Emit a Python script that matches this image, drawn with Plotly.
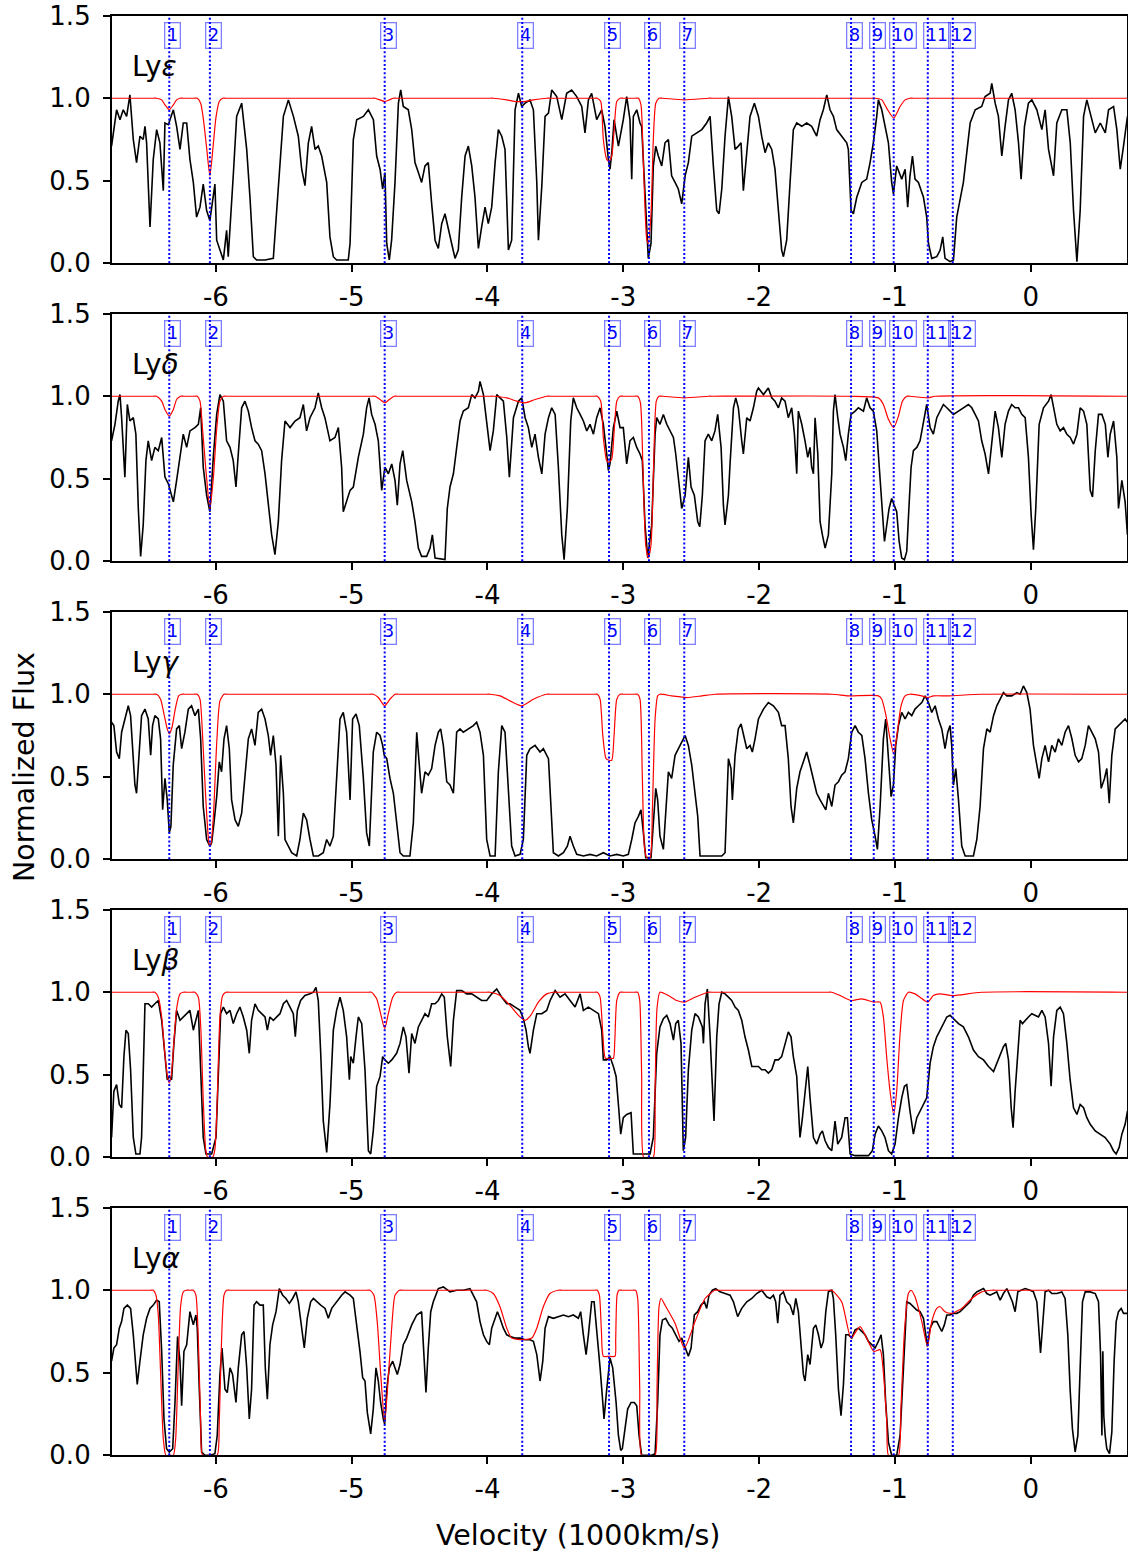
import plotly.graph_objects as go

# ---------------------------------------------------------------------------
# Axes (velocity in units of 1000 km/s, continuum-normalised flux)
# ---------------------------------------------------------------------------
V_RANGE = [-6.767, 0.711]
FLUX_RANGE = [0.0, 1.5]
VEL_TICKS = [-6, -5, -4, -3, -2, -1, 0]
VEL_TICK_TEXT = ["-6", "-5", "-4", "-3", "-2", "-1", "0"]
FLUX_TICKS = [0.0, 0.5, 1.0, 1.5]

# Absorption components marked in every panel
COMPONENT_IDS = ["1", "2", "3", "4", "5", "6", "7", "8", "9", "10", "11", "12"]
COMPONENT_VEL = [-6.343, -6.044, -4.757, -3.744, -3.105, -2.811, -2.551,
                 -1.323, -1.156, -1.009, -0.758, -0.574]

LINE_LABELS = ["Ly<i>ε</i>", "Ly<i>δ</i>", "Ly<i>γ</i>", "Ly<i>β</i>", "Ly<i>α</i>"]

# ---------------------------------------------------------------------------
# Observed spectra: (velocity, normalised flux)
# ---------------------------------------------------------------------------
LYE_SPEC = [
    (-6.768, 0.71), (-6.731, 0.93), (-6.706, 0.87), (-6.682, 0.93), (-6.657, 0.89), (-6.633, 1.02),
    (-6.608, 0.75), (-6.584, 0.61), (-6.559, 0.77), (-6.535, 0.75), (-6.522, 0.83), (-6.510, 0.73),
    (-6.485, 0.22), (-6.461, 0.63), (-6.436, 0.81), (-6.412, 0.73), (-6.387, 0.44), (-6.375, 0.85),
    (-6.350, 0.84), (-6.313, 0.93), (-6.289, 0.83), (-6.264, 0.69), (-6.240, 0.85), (-6.215, 0.85),
    (-6.191, 0.63), (-6.166, 0.49), (-6.142, 0.28), (-6.117, 0.34), (-6.093, 0.48), (-6.068, 0.32),
    (-6.044, 0.26), (-6.019, 0.40), (-6.007, 0.48), (-5.994, 0.14), (-5.970, 0.08), (-5.945, 0.02),
    (-5.921, 0.20), (-5.909, 0.04), (-5.872, 0.53), (-5.847, 0.89), (-5.810, 0.97), (-5.773, 0.69),
    (-5.749, 0.40), (-5.724, 0.04), (-5.700, 0.02), (-5.638, 0.02), (-5.577, 0.03), (-5.553, 0.32),
    (-5.528, 0.59), (-5.503, 0.89), (-5.466, 0.99), (-5.429, 0.89), (-5.393, 0.77), (-5.368, 0.57),
    (-5.344, 0.47), (-5.319, 0.73), (-5.295, 0.83), (-5.270, 0.69), (-5.246, 0.71), (-5.221, 0.65),
    (-5.184, 0.49), (-5.160, 0.16), (-5.135, 0.04), (-5.111, 0.02), (-5.062, 0.02), (-5.025, 0.02),
    (-5.012, 0.12), (-4.988, 0.75), (-4.963, 0.87), (-4.914, 0.89), (-4.877, 0.93), (-4.840, 0.87),
    (-4.816, 0.65), (-4.791, 0.57), (-4.772, 0.45), (-4.755, 0.55), (-4.742, 0.12), (-4.723, 0.02),
    (-4.706, 0.14), (-4.681, 0.49), (-4.656, 0.97), (-4.639, 1.05), (-4.620, 0.95), (-4.583, 0.93),
    (-4.558, 0.81), (-4.534, 0.61), (-4.509, 0.55), (-4.485, 0.49), (-4.460, 0.59), (-4.436, 0.61),
    (-4.411, 0.36), (-4.386, 0.14), (-4.362, 0.09), (-4.337, 0.24), (-4.313, 0.30), (-4.288, 0.20),
    (-4.264, 0.12), (-4.239, 0.03), (-4.215, 0.08), (-4.190, 0.40), (-4.165, 0.65), (-4.141, 0.71),
    (-4.116, 0.59), (-4.092, 0.40), (-4.067, 0.09), (-4.043, 0.22), (-4.018, 0.34), (-3.994, 0.24),
    (-3.969, 0.34), (-3.944, 0.61), (-3.920, 0.81), (-3.895, 0.77), (-3.871, 0.69), (-3.846, 0.08),
    (-3.822, 0.14), (-3.797, 0.93), (-3.772, 1.03), (-3.748, 0.95), (-3.723, 0.97), (-3.687, 0.99),
    (-3.662, 0.93), (-3.637, 0.49), (-3.625, 0.14), (-3.600, 0.47), (-3.576, 0.89), (-3.551, 0.91),
    (-3.527, 1.05), (-3.490, 1.01), (-3.453, 0.87), (-3.417, 1.03), (-3.380, 1.05), (-3.343, 1.01),
    (-3.306, 0.95), (-3.282, 0.79), (-3.257, 0.99), (-3.233, 1.03), (-3.196, 0.87), (-3.159, 0.93),
    (-3.135, 0.83), (-3.110, 0.63), (-3.098, 0.57), (-3.085, 0.67), (-3.068, 0.87), (-3.036, 0.71),
    (-3.000, 0.87), (-2.975, 1.01), (-2.951, 0.87), (-2.938, 0.51), (-2.926, 0.89), (-2.901, 0.93),
    (-2.877, 0.85), (-2.865, 0.83), (-2.845, 0.49), (-2.833, 0.32), (-2.816, 0.03), (-2.796, 0.12),
    (-2.779, 0.59), (-2.761, 0.71), (-2.742, 0.65), (-2.717, 0.59), (-2.693, 0.73), (-2.668, 0.75),
    (-2.644, 0.53), (-2.619, 0.49), (-2.595, 0.45), (-2.570, 0.36), (-2.545, 0.53), (-2.521, 0.61),
    (-2.496, 0.77), (-2.459, 0.79), (-2.422, 0.81), (-2.386, 0.85), (-2.361, 0.89), (-2.337, 0.59),
    (-2.312, 0.32), (-2.295, 0.30), (-2.275, 0.45), (-2.251, 0.77), (-2.226, 1.01), (-2.202, 0.89),
    (-2.177, 0.69), (-2.153, 0.71), (-2.133, 0.73), (-2.116, 0.44), (-2.091, 0.69), (-2.067, 0.89),
    (-2.035, 0.97), (-2.005, 0.89), (-1.981, 0.77), (-1.956, 0.67), (-1.932, 0.73), (-1.907, 0.69),
    (-1.883, 0.57), (-1.858, 0.32), (-1.834, 0.08), (-1.821, 0.04), (-1.797, 0.14), (-1.772, 0.49),
    (-1.748, 0.81), (-1.723, 0.85), (-1.686, 0.83), (-1.650, 0.85), (-1.613, 0.83), (-1.576, 0.77),
    (-1.551, 0.87), (-1.527, 0.93), (-1.502, 1.02), (-1.478, 0.93), (-1.453, 0.89), (-1.429, 0.81),
    (-1.392, 0.77), (-1.355, 0.73), (-1.343, 0.69), (-1.323, 0.32), (-1.306, 0.30), (-1.281, 0.40),
    (-1.244, 0.49), (-1.208, 0.51), (-1.183, 0.61), (-1.159, 0.73), (-1.134, 0.89), (-1.122, 0.99),
    (-1.097, 0.93), (-1.073, 0.83), (-1.048, 0.73), (-1.024, 0.49), (-1.011, 0.42), (-0.987, 0.59),
    (-0.950, 0.51), (-0.925, 0.57), (-0.906, 0.34), (-0.889, 0.53), (-0.871, 0.65), (-0.852, 0.51),
    (-0.827, 0.49), (-0.790, 0.40), (-0.766, 0.28), (-0.753, 0.12), (-0.729, 0.03), (-0.692, 0.04),
    (-0.667, 0.08), (-0.648, 0.16), (-0.631, 0.03), (-0.594, 0.01), (-0.569, 0.02), (-0.545, 0.28),
    (-0.520, 0.40), (-0.496, 0.49), (-0.471, 0.67), (-0.446, 0.85), (-0.409, 0.93), (-0.361, 0.95),
    (-0.336, 1.01), (-0.299, 1.03), (-0.287, 1.09), (-0.262, 0.97), (-0.238, 0.89), (-0.213, 0.65),
    (-0.189, 0.83), (-0.164, 0.99), (-0.140, 1.03), (-0.115, 0.93), (-0.090, 0.73), (-0.071, 0.51),
    (-0.046, 0.83), (-0.017, 0.97), (0.008, 0.99), (0.045, 0.93), (0.082, 0.81), (0.106, 0.93),
    (0.131, 0.69), (0.168, 0.53), (0.192, 0.85), (0.229, 0.93), (0.266, 0.93), (0.291, 0.73),
    (0.315, 0.32), (0.340, 0.01), (0.364, 0.32), (0.389, 0.89), (0.413, 0.99), (0.438, 0.91),
    (0.475, 0.79), (0.512, 0.85), (0.549, 0.79), (0.573, 0.93), (0.610, 0.95), (0.634, 0.81),
    (0.659, 0.57), (0.683, 0.71), (0.712, 0.89),
]

LYD_SPEC = [
    (-6.768, 0.73), (-6.743, 0.83), (-6.719, 0.97), (-6.706, 1.01), (-6.694, 0.87), (-6.682, 0.69),
    (-6.670, 0.51), (-6.652, 0.95), (-6.633, 0.85), (-6.608, 0.87), (-6.589, 0.77), (-6.571, 0.32),
    (-6.554, 0.03), (-6.535, 0.22), (-6.515, 0.61), (-6.498, 0.73), (-6.473, 0.61), (-6.449, 0.69),
    (-6.424, 0.67), (-6.399, 0.75), (-6.375, 0.51), (-6.350, 0.47), (-6.338, 0.43), (-6.313, 0.36),
    (-6.289, 0.49), (-6.264, 0.63), (-6.240, 0.77), (-6.215, 0.69), (-6.191, 0.79), (-6.154, 0.81),
    (-6.129, 0.83), (-6.112, 0.93), (-6.093, 0.57), (-6.068, 0.40), (-6.044, 0.30), (-6.019, 0.63),
    (-5.994, 0.89), (-5.970, 1.01), (-5.945, 0.97), (-5.921, 0.73), (-5.896, 0.69), (-5.872, 0.61),
    (-5.852, 0.45), (-5.835, 0.65), (-5.810, 0.93), (-5.786, 0.97), (-5.761, 0.91), (-5.737, 0.81),
    (-5.712, 0.73), (-5.688, 0.71), (-5.663, 0.67), (-5.638, 0.53), (-5.614, 0.36), (-5.589, 0.16),
    (-5.565, 0.04), (-5.540, 0.24), (-5.516, 0.61), (-5.491, 0.85), (-5.454, 0.81), (-5.417, 0.85),
    (-5.381, 0.87), (-5.356, 0.95), (-5.332, 0.79), (-5.307, 0.87), (-5.270, 0.93), (-5.246, 1.02),
    (-5.221, 0.93), (-5.197, 0.87), (-5.160, 0.73), (-5.123, 0.75), (-5.098, 0.81), (-5.074, 0.57),
    (-5.062, 0.30), (-5.037, 0.36), (-5.012, 0.43), (-4.988, 0.45), (-4.951, 0.63), (-4.914, 0.77),
    (-4.890, 0.93), (-4.872, 0.99), (-4.853, 0.89), (-4.828, 0.83), (-4.804, 0.73), (-4.779, 0.43),
    (-4.755, 0.57), (-4.730, 0.53), (-4.705, 0.59), (-4.681, 0.49), (-4.664, 0.34), (-4.644, 0.59),
    (-4.624, 0.67), (-4.595, 0.49), (-4.558, 0.36), (-4.534, 0.24), (-4.509, 0.08), (-4.485, 0.03),
    (-4.448, 0.03), (-4.423, 0.08), (-4.406, 0.16), (-4.386, 0.02), (-4.313, 0.01), (-4.296, 0.32),
    (-4.276, 0.45), (-4.251, 0.53), (-4.227, 0.69), (-4.202, 0.85), (-4.178, 0.91), (-4.141, 0.93),
    (-4.116, 1.01), (-4.092, 0.99), (-4.067, 1.03), (-4.055, 1.09), (-4.030, 1.01), (-4.006, 0.85),
    (-3.981, 0.67), (-3.957, 0.79), (-3.932, 1.01), (-3.908, 0.99), (-3.883, 0.97), (-3.858, 0.75),
    (-3.839, 0.51), (-3.809, 0.87), (-3.772, 0.97), (-3.748, 0.99), (-3.723, 0.87), (-3.699, 0.81),
    (-3.674, 0.69), (-3.650, 0.77), (-3.625, 0.63), (-3.600, 0.53), (-3.576, 0.77), (-3.551, 0.87),
    (-3.527, 0.93), (-3.502, 0.89), (-3.478, 0.57), (-3.453, 0.16), (-3.436, 0.01), (-3.412, 0.32),
    (-3.387, 0.85), (-3.368, 0.99), (-3.343, 0.93), (-3.318, 0.89), (-3.294, 0.85), (-3.269, 0.79),
    (-3.245, 0.83), (-3.220, 0.77), (-3.196, 0.87), (-3.171, 0.93), (-3.147, 0.83), (-3.122, 0.65),
    (-3.110, 0.55), (-3.098, 0.59), (-3.073, 0.81), (-3.048, 0.91), (-3.024, 0.81), (-3.000, 0.81),
    (-2.975, 0.59), (-2.951, 0.73), (-2.926, 0.75), (-2.901, 0.69), (-2.877, 0.65), (-2.860, 0.61),
    (-2.840, 0.22), (-2.820, 0.02), (-2.791, 0.22), (-2.766, 0.77), (-2.754, 0.87), (-2.730, 0.83),
    (-2.705, 0.89), (-2.680, 0.83), (-2.656, 0.79), (-2.631, 0.75), (-2.614, 0.65), (-2.595, 0.49),
    (-2.570, 0.32), (-2.545, 0.40), (-2.521, 0.63), (-2.501, 0.45), (-2.477, 0.40), (-2.452, 0.24),
    (-2.437, 0.21), (-2.418, 0.40), (-2.398, 0.73), (-2.374, 0.77), (-2.349, 0.73), (-2.325, 0.79),
    (-2.305, 0.89), (-2.280, 0.69), (-2.263, 0.34), (-2.251, 0.22), (-2.226, 0.40), (-2.214, 0.59),
    (-2.189, 0.93), (-2.172, 0.99), (-2.153, 0.93), (-2.128, 0.73), (-2.116, 0.65), (-2.091, 0.87),
    (-2.067, 0.85), (-2.042, 0.93), (-2.018, 1.03), (-2.005, 1.05), (-1.968, 1.01), (-1.932, 1.05),
    (-1.907, 0.99), (-1.883, 0.97), (-1.858, 0.93), (-1.834, 0.99), (-1.809, 0.97), (-1.785, 0.87),
    (-1.760, 0.93), (-1.740, 0.77), (-1.723, 0.53), (-1.711, 0.91), (-1.686, 0.83), (-1.662, 0.73),
    (-1.642, 0.63), (-1.625, 0.69), (-1.613, 0.57), (-1.600, 0.53), (-1.588, 0.87), (-1.568, 0.65),
    (-1.551, 0.24), (-1.534, 0.16), (-1.514, 0.08), (-1.490, 0.16), (-1.465, 0.53), (-1.453, 0.91),
    (-1.441, 1.01), (-1.421, 0.87), (-1.404, 0.77), (-1.379, 0.69), (-1.362, 0.61), (-1.343, 0.77),
    (-1.323, 0.89), (-1.293, 0.91), (-1.269, 0.93), (-1.232, 0.91), (-1.208, 0.99), (-1.183, 0.93),
    (-1.159, 0.91), (-1.134, 0.79), (-1.109, 0.47), (-1.092, 0.30), (-1.077, 0.12), (-1.060, 0.22),
    (-1.043, 0.32), (-1.024, 0.38), (-1.004, 0.34), (-0.987, 0.30), (-0.969, 0.12), (-0.950, 0.02),
    (-0.930, 0.01), (-0.913, 0.06), (-0.896, 0.34), (-0.881, 0.57), (-0.864, 0.67), (-0.839, 0.69),
    (-0.815, 0.73), (-0.790, 0.85), (-0.766, 0.95), (-0.741, 0.81), (-0.717, 0.77), (-0.692, 0.87),
    (-0.667, 0.91), (-0.643, 0.95), (-0.618, 0.93), (-0.594, 0.91), (-0.569, 0.89), (-0.532, 0.91),
    (-0.496, 0.93), (-0.459, 0.95), (-0.434, 0.93), (-0.409, 0.89), (-0.385, 0.85), (-0.361, 0.73),
    (-0.336, 0.65), (-0.311, 0.53), (-0.287, 0.73), (-0.262, 0.91), (-0.238, 0.81), (-0.213, 0.63),
    (-0.189, 0.83), (-0.164, 0.91), (-0.140, 0.95), (-0.115, 0.93), (-0.090, 0.93), (-0.066, 0.89),
    (-0.041, 0.87), (-0.017, 0.63), (0.003, 0.28), (0.020, 0.07), (0.037, 0.32), (0.062, 0.83),
    (0.094, 0.93), (0.131, 0.97), (0.150, 1.01), (0.168, 0.93), (0.192, 0.83), (0.217, 0.79),
    (0.241, 0.81), (0.266, 0.77), (0.291, 0.75), (0.315, 0.71), (0.340, 0.77), (0.364, 0.93),
    (0.389, 0.91), (0.413, 0.83), (0.438, 0.43), (0.455, 0.39), (0.475, 0.67), (0.499, 0.89),
    (0.524, 0.89), (0.549, 0.83), (0.568, 0.63), (0.585, 0.77), (0.610, 0.85), (0.634, 0.63),
    (0.646, 0.32), (0.671, 0.49), (0.695, 0.36), (0.712, 0.16),
]

LYG_SPEC = [
    (-6.768, 0.83), (-6.751, 0.81), (-6.731, 0.65), (-6.711, 0.61), (-6.694, 0.77), (-6.670, 0.85),
    (-6.645, 0.93), (-6.628, 0.87), (-6.608, 0.61), (-6.596, 0.45), (-6.584, 0.40), (-6.564, 0.65),
    (-6.547, 0.87), (-6.522, 0.91), (-6.498, 0.85), (-6.480, 0.63), (-6.466, 0.81), (-6.449, 0.87),
    (-6.424, 0.85), (-6.407, 0.73), (-6.392, 0.30), (-6.375, 0.49), (-6.358, 0.36), (-6.343, 0.16),
    (-6.331, 0.20), (-6.314, 0.57), (-6.289, 0.79), (-6.269, 0.81), (-6.252, 0.67), (-6.228, 0.77),
    (-6.203, 0.91), (-6.179, 0.93), (-6.154, 0.87), (-6.129, 0.91), (-6.112, 0.73), (-6.093, 0.32),
    (-6.068, 0.12), (-6.044, 0.08), (-6.031, 0.10), (-6.014, 0.22), (-5.994, 0.38), (-5.975, 0.59),
    (-5.958, 0.53), (-5.940, 0.73), (-5.921, 0.81), (-5.901, 0.67), (-5.884, 0.36), (-5.859, 0.24),
    (-5.835, 0.20), (-5.810, 0.28), (-5.786, 0.49), (-5.761, 0.73), (-5.737, 0.79), (-5.712, 0.69),
    (-5.688, 0.89), (-5.663, 0.91), (-5.638, 0.85), (-5.614, 0.75), (-5.597, 0.63), (-5.577, 0.75),
    (-5.557, 0.57), (-5.540, 0.14), (-5.523, 0.63), (-5.503, 0.40), (-5.491, 0.12), (-5.466, 0.08),
    (-5.442, 0.04), (-5.405, 0.02), (-5.381, 0.12), (-5.356, 0.28), (-5.332, 0.24), (-5.307, 0.12),
    (-5.282, 0.02), (-5.246, 0.02), (-5.209, 0.04), (-5.184, 0.12), (-5.160, 0.08), (-5.135, 0.14),
    (-5.111, 0.53), (-5.086, 0.85), (-5.062, 0.89), (-5.037, 0.77), (-5.012, 0.36), (-4.993, 0.85),
    (-4.968, 0.88), (-4.944, 0.81), (-4.914, 0.49), (-4.890, 0.16), (-4.870, 0.08), (-4.841, 0.65),
    (-4.816, 0.77), (-4.791, 0.75), (-4.772, 0.69), (-4.760, 0.63), (-4.742, 0.61), (-4.718, 0.49),
    (-4.693, 0.40), (-4.669, 0.24), (-4.644, 0.04), (-4.620, 0.02), (-4.571, 0.02), (-4.546, 0.22),
    (-4.521, 0.77), (-4.502, 0.57), (-4.485, 0.40), (-4.460, 0.53), (-4.436, 0.51), (-4.411, 0.55),
    (-4.386, 0.69), (-4.362, 0.77), (-4.345, 0.79), (-4.325, 0.69), (-4.300, 0.47), (-4.276, 0.45),
    (-4.251, 0.40), (-4.227, 0.77), (-4.202, 0.79), (-4.178, 0.77), (-4.141, 0.79), (-4.104, 0.81),
    (-4.080, 0.83), (-4.055, 0.77), (-4.030, 0.63), (-4.006, 0.12), (-3.981, 0.02), (-3.944, 0.02),
    (-3.920, 0.53), (-3.895, 0.81), (-3.871, 0.77), (-3.846, 0.43), (-3.822, 0.08), (-3.797, 0.02),
    (-3.760, 0.03), (-3.736, 0.12), (-3.711, 0.63), (-3.687, 0.67), (-3.650, 0.69), (-3.613, 0.65),
    (-3.589, 0.67), (-3.551, 0.61), (-3.534, 0.32), (-3.515, 0.04), (-3.478, 0.02), (-3.441, 0.04),
    (-3.412, 0.08), (-3.392, 0.14), (-3.368, 0.08), (-3.343, 0.03), (-3.294, 0.02), (-3.245, 0.03),
    (-3.196, 0.02), (-3.147, 0.04), (-3.098, 0.02), (-3.048, 0.03), (-3.000, 0.02), (-2.963, 0.03),
    (-2.938, 0.12), (-2.914, 0.22), (-2.889, 0.26), (-2.870, 0.30), (-2.852, 0.16), (-2.835, 0.01),
    (-2.796, 0.01), (-2.779, 0.22), (-2.761, 0.43), (-2.747, 0.36), (-2.730, 0.14), (-2.705, 0.06),
    (-2.688, 0.28), (-2.668, 0.53), (-2.644, 0.49), (-2.619, 0.63), (-2.582, 0.69), (-2.545, 0.75),
    (-2.521, 0.69), (-2.496, 0.57), (-2.472, 0.40), (-2.452, 0.26), (-2.435, 0.02), (-2.398, 0.02),
    (-2.325, 0.02), (-2.275, 0.02), (-2.251, 0.04), (-2.226, 0.61), (-2.207, 0.55), (-2.197, 0.36),
    (-2.177, 0.63), (-2.153, 0.79), (-2.133, 0.82), (-2.116, 0.75), (-2.091, 0.67), (-2.067, 0.69),
    (-2.050, 0.65), (-2.030, 0.73), (-2.005, 0.85), (-1.968, 0.91), (-1.932, 0.95), (-1.895, 0.93),
    (-1.858, 0.89), (-1.834, 0.81), (-1.809, 0.81), (-1.785, 0.61), (-1.765, 0.32), (-1.748, 0.22),
    (-1.723, 0.43), (-1.699, 0.53), (-1.674, 0.59), (-1.650, 0.65), (-1.625, 0.57), (-1.600, 0.49),
    (-1.576, 0.40), (-1.551, 0.36), (-1.527, 0.32), (-1.509, 0.30), (-1.490, 0.40), (-1.465, 0.32),
    (-1.441, 0.45), (-1.416, 0.47), (-1.392, 0.51), (-1.367, 0.53), (-1.343, 0.61), (-1.318, 0.77),
    (-1.293, 0.81), (-1.269, 0.77), (-1.244, 0.75), (-1.220, 0.61), (-1.195, 0.40), (-1.171, 0.24),
    (-1.146, 0.14), (-1.129, 0.06), (-1.109, 0.32), (-1.085, 0.73), (-1.068, 0.85), (-1.048, 0.61),
    (-1.028, 0.38), (-1.011, 0.45), (-0.994, 0.69), (-0.974, 0.81), (-0.950, 0.89), (-0.925, 0.85),
    (-0.901, 0.89), (-0.876, 0.87), (-0.852, 0.91), (-0.827, 0.93), (-0.802, 0.95), (-0.778, 0.99),
    (-0.753, 0.95), (-0.729, 0.89), (-0.704, 0.93), (-0.680, 0.85), (-0.655, 0.79), (-0.631, 0.67),
    (-0.611, 0.77), (-0.594, 0.81), (-0.582, 0.69), (-0.569, 0.45), (-0.552, 0.55), (-0.532, 0.36),
    (-0.508, 0.08), (-0.483, 0.02), (-0.422, 0.02), (-0.397, 0.12), (-0.373, 0.32), (-0.348, 0.67),
    (-0.323, 0.79), (-0.299, 0.77), (-0.274, 0.87), (-0.250, 0.93), (-0.225, 0.97), (-0.201, 1.01),
    (-0.176, 0.99), (-0.140, 0.99), (-0.102, 1.01), (-0.078, 1.00), (-0.054, 1.05), (-0.029, 1.01),
    (-0.005, 0.91), (0.020, 0.69), (0.045, 0.57), (0.062, 0.49), (0.082, 0.61), (0.106, 0.69),
    (0.131, 0.59), (0.155, 0.69), (0.180, 0.65), (0.204, 0.73), (0.229, 0.69), (0.253, 0.77),
    (0.278, 0.81), (0.303, 0.73), (0.327, 0.63), (0.352, 0.59), (0.376, 0.61), (0.401, 0.69),
    (0.425, 0.81), (0.450, 0.77), (0.475, 0.73), (0.499, 0.65), (0.519, 0.43), (0.543, 0.49),
    (0.560, 0.55), (0.578, 0.34), (0.597, 0.63), (0.622, 0.79), (0.646, 0.81), (0.671, 0.83),
    (0.695, 0.85), (0.712, 0.83),
]

LYB_SPEC = [
    (-6.768, 0.12), (-6.751, 0.40), (-6.731, 0.44), (-6.711, 0.32), (-6.694, 0.30), (-6.677, 0.61),
    (-6.662, 0.77), (-6.645, 0.75), (-6.628, 0.53), (-6.608, 0.12), (-6.589, 0.02), (-6.559, 0.02),
    (-6.547, 0.12), (-6.535, 0.59), (-6.522, 0.93), (-6.498, 0.93), (-6.473, 0.91), (-6.449, 0.93),
    (-6.424, 0.95), (-6.399, 0.83), (-6.375, 0.63), (-6.358, 0.47), (-6.343, 0.49), (-6.326, 0.47),
    (-6.309, 0.69), (-6.289, 0.89), (-6.264, 0.83), (-6.240, 0.85), (-6.215, 0.87), (-6.191, 0.89),
    (-6.166, 0.77), (-6.147, 0.83), (-6.129, 0.89), (-6.112, 0.53), (-6.093, 0.12), (-6.073, 0.02),
    (-6.031, 0.02), (-5.999, 0.12), (-5.982, 0.53), (-5.965, 0.87), (-5.945, 0.91), (-5.921, 0.87),
    (-5.896, 0.89), (-5.872, 0.81), (-5.847, 0.87), (-5.823, 0.91), (-5.798, 0.85), (-5.773, 0.77),
    (-5.754, 0.63), (-5.737, 0.83), (-5.712, 0.93), (-5.688, 0.89), (-5.663, 0.87), (-5.638, 0.85),
    (-5.621, 0.77), (-5.602, 0.85), (-5.577, 0.83), (-5.553, 0.85), (-5.528, 0.87), (-5.503, 0.93),
    (-5.479, 0.95), (-5.454, 0.91), (-5.430, 0.87), (-5.415, 0.73), (-5.400, 0.89), (-5.376, 0.95),
    (-5.344, 0.98), (-5.307, 0.99), (-5.282, 1.00), (-5.263, 1.03), (-5.246, 0.95), (-5.228, 0.63),
    (-5.209, 0.22), (-5.184, 0.03), (-5.160, 0.32), (-5.135, 0.77), (-5.111, 0.89), (-5.086, 0.97),
    (-5.062, 0.89), (-5.037, 0.73), (-5.017, 0.47), (-5.007, 0.61), (-4.988, 0.57), (-4.968, 0.73),
    (-4.951, 0.85), (-4.926, 0.81), (-4.902, 0.53), (-4.877, 0.04), (-4.860, 0.02), (-4.841, 0.16),
    (-4.816, 0.43), (-4.791, 0.49), (-4.772, 0.61), (-4.755, 0.59), (-4.730, 0.57), (-4.705, 0.59),
    (-4.669, 0.63), (-4.644, 0.69), (-4.620, 0.79), (-4.600, 0.73), (-4.578, 0.51), (-4.558, 0.75),
    (-4.534, 0.69), (-4.509, 0.79), (-4.485, 0.83), (-4.460, 0.87), (-4.436, 0.85), (-4.411, 0.93),
    (-4.386, 0.93), (-4.362, 0.95), (-4.337, 0.99), (-4.318, 0.97), (-4.296, 0.73), (-4.271, 0.55),
    (-4.251, 0.83), (-4.227, 1.01), (-4.190, 1.01), (-4.153, 0.99), (-4.116, 0.99), (-4.080, 0.97),
    (-4.043, 0.95), (-4.006, 0.95), (-3.969, 0.99), (-3.932, 1.02), (-3.895, 0.97), (-3.858, 0.93),
    (-3.834, 0.93), (-3.797, 0.91), (-3.760, 0.89), (-3.736, 0.84), (-3.716, 0.77), (-3.699, 0.67),
    (-3.687, 0.63), (-3.662, 0.77), (-3.637, 0.87), (-3.600, 0.87), (-3.564, 0.89), (-3.539, 0.95),
    (-3.502, 1.01), (-3.466, 0.97), (-3.429, 0.99), (-3.392, 0.95), (-3.355, 0.91), (-3.318, 0.99),
    (-3.294, 0.89), (-3.257, 0.91), (-3.220, 0.89), (-3.183, 0.87), (-3.159, 0.77), (-3.147, 0.59),
    (-3.122, 0.59), (-3.098, 0.61), (-3.073, 0.55), (-3.053, 0.49), (-3.036, 0.32), (-3.019, 0.14),
    (-3.000, 0.24), (-2.975, 0.26), (-2.943, 0.27), (-2.926, 0.02), (-2.901, 0.02), (-2.865, 0.02),
    (-2.828, 0.02), (-2.803, 0.02), (-2.779, 0.12), (-2.754, 0.63), (-2.730, 0.79), (-2.705, 0.84),
    (-2.680, 0.86), (-2.656, 0.81), (-2.631, 0.71), (-2.614, 0.81), (-2.595, 0.83), (-2.575, 0.69),
    (-2.558, 0.04), (-2.541, 0.12), (-2.521, 0.53), (-2.496, 0.77), (-2.472, 0.87), (-2.447, 0.85),
    (-2.418, 0.79), (-2.410, 0.69), (-2.398, 0.93), (-2.381, 1.02), (-2.361, 0.73), (-2.344, 0.36),
    (-2.332, 0.22), (-2.312, 0.73), (-2.295, 0.93), (-2.275, 1.00), (-2.251, 0.99), (-2.226, 0.97),
    (-2.202, 0.95), (-2.177, 0.91), (-2.153, 0.89), (-2.128, 0.83), (-2.104, 0.73), (-2.079, 0.65),
    (-2.054, 0.55), (-2.030, 0.55), (-2.005, 0.55), (-1.981, 0.53), (-1.956, 0.53), (-1.932, 0.51),
    (-1.907, 0.53), (-1.883, 0.59), (-1.858, 0.59), (-1.834, 0.61), (-1.809, 0.69), (-1.785, 0.76),
    (-1.765, 0.73), (-1.748, 0.61), (-1.723, 0.49), (-1.699, 0.12), (-1.681, 0.24), (-1.662, 0.40),
    (-1.642, 0.55), (-1.625, 0.36), (-1.600, 0.12), (-1.576, 0.08), (-1.551, 0.14), (-1.534, 0.16),
    (-1.514, 0.10), (-1.490, 0.06), (-1.465, 0.04), (-1.441, 0.22), (-1.421, 0.08), (-1.392, 0.12),
    (-1.367, 0.24), (-1.350, 0.24), (-1.330, 0.02), (-1.293, 0.01), (-1.244, 0.01), (-1.195, 0.01),
    (-1.166, 0.04), (-1.146, 0.14), (-1.122, 0.19), (-1.097, 0.16), (-1.073, 0.12), (-1.048, 0.04),
    (-1.024, 0.02), (-0.999, 0.08), (-0.974, 0.24), (-0.950, 0.36), (-0.930, 0.43), (-0.913, 0.44),
    (-0.889, 0.28), (-0.864, 0.14), (-0.839, 0.24), (-0.815, 0.28), (-0.790, 0.32), (-0.766, 0.36),
    (-0.741, 0.57), (-0.717, 0.67), (-0.692, 0.73), (-0.667, 0.77), (-0.643, 0.81), (-0.618, 0.85),
    (-0.594, 0.86), (-0.569, 0.84), (-0.532, 0.81), (-0.496, 0.79), (-0.459, 0.73), (-0.422, 0.65),
    (-0.385, 0.61), (-0.348, 0.59), (-0.311, 0.55), (-0.274, 0.52), (-0.250, 0.57), (-0.225, 0.61),
    (-0.201, 0.67), (-0.184, 0.69), (-0.164, 0.59), (-0.144, 0.30), (-0.130, 0.18), (-0.115, 0.40),
    (-0.090, 0.73), (-0.078, 0.83), (-0.061, 0.81), (-0.041, 0.83), (-0.017, 0.85), (0.008, 0.87),
    (0.032, 0.86), (0.057, 0.85), (0.082, 0.89), (0.106, 0.85), (0.131, 0.69), (0.150, 0.43),
    (0.168, 0.73), (0.192, 0.89), (0.217, 0.91), (0.241, 0.87), (0.266, 0.69), (0.290, 0.47),
    (0.315, 0.30), (0.340, 0.26), (0.364, 0.32), (0.389, 0.30), (0.413, 0.24), (0.438, 0.20),
    (0.475, 0.16), (0.511, 0.14), (0.548, 0.12), (0.585, 0.08), (0.609, 0.04), (0.629, 0.02),
    (0.651, 0.06), (0.671, 0.14), (0.695, 0.20), (0.712, 0.28),
]

LYA_SPEC = [
    (-6.768, 0.57), (-6.751, 0.65), (-6.731, 0.67), (-6.711, 0.77), (-6.694, 0.81), (-6.677, 0.89),
    (-6.652, 0.91), (-6.628, 0.89), (-6.608, 0.73), (-6.589, 0.49), (-6.579, 0.43), (-6.559, 0.57),
    (-6.535, 0.73), (-6.510, 0.83), (-6.485, 0.89), (-6.461, 0.91), (-6.436, 0.94), (-6.417, 0.93),
    (-6.399, 0.63), (-6.382, 0.22), (-6.363, 0.04), (-6.343, 0.02), (-6.318, 0.04), (-6.301, 0.32),
    (-6.282, 0.72), (-6.264, 0.57), (-6.252, 0.30), (-6.235, 0.63), (-6.215, 0.67), (-6.191, 0.87),
    (-6.166, 0.79), (-6.147, 0.85), (-6.137, 0.77), (-6.122, 0.40), (-6.105, 0.02), (-6.080, 0.00),
    (-6.044, 0.00), (-6.007, 0.01), (-5.990, 0.12), (-5.970, 0.49), (-5.955, 0.65), (-5.933, 0.40),
    (-5.916, 0.38), (-5.896, 0.53), (-5.877, 0.49), (-5.852, 0.32), (-5.835, 0.53), (-5.810, 0.73),
    (-5.793, 0.75), (-5.773, 0.53), (-5.754, 0.22), (-5.737, 0.40), (-5.719, 0.91), (-5.700, 0.93),
    (-5.675, 0.91), (-5.651, 0.91), (-5.636, 0.53), (-5.621, 0.34), (-5.602, 0.67), (-5.582, 0.79),
    (-5.557, 0.87), (-5.533, 1.01), (-5.508, 0.97), (-5.484, 0.95), (-5.459, 0.92), (-5.435, 0.95),
    (-5.410, 0.99), (-5.393, 0.93), (-5.368, 0.77), (-5.349, 0.65), (-5.327, 0.83), (-5.302, 0.93),
    (-5.282, 0.95), (-5.258, 0.93), (-5.228, 0.91), (-5.196, 0.89), (-5.172, 0.83), (-5.147, 0.89),
    (-5.111, 0.93), (-5.074, 0.97), (-5.049, 0.99), (-5.012, 0.97), (-4.988, 0.95), (-4.963, 0.79),
    (-4.939, 0.63), (-4.919, 0.47), (-4.902, 0.45), (-4.885, 0.26), (-4.860, 0.13), (-4.841, 0.28),
    (-4.821, 0.53), (-4.804, 0.45), (-4.787, 0.32), (-4.767, 0.22), (-4.757, 0.19), (-4.742, 0.40),
    (-4.723, 0.53), (-4.698, 0.57), (-4.664, 0.49), (-4.644, 0.55), (-4.620, 0.67), (-4.595, 0.71),
    (-4.558, 0.79), (-4.521, 0.85), (-4.485, 0.87), (-4.467, 0.59), (-4.453, 0.38), (-4.436, 0.65),
    (-4.418, 0.87), (-4.399, 0.93), (-4.362, 1.01), (-4.325, 1.02), (-4.276, 0.99), (-4.227, 1.00),
    (-4.178, 1.00), (-4.129, 1.01), (-4.104, 0.97), (-4.080, 0.93), (-4.055, 0.81), (-4.030, 0.73),
    (-4.006, 0.69), (-3.986, 0.67), (-3.969, 0.77), (-3.944, 0.83), (-3.927, 0.87), (-3.908, 0.83),
    (-3.883, 0.77), (-3.858, 0.73), (-3.834, 0.72), (-3.797, 0.71), (-3.760, 0.71), (-3.723, 0.70),
    (-3.687, 0.70), (-3.662, 0.69), (-3.637, 0.61), (-3.613, 0.45), (-3.593, 0.57), (-3.576, 0.77),
    (-3.551, 0.84), (-3.515, 0.83), (-3.478, 0.84), (-3.441, 0.85), (-3.404, 0.84), (-3.368, 0.85),
    (-3.331, 0.83), (-3.314, 0.87), (-3.294, 0.73), (-3.274, 0.61), (-3.257, 0.73), (-3.233, 0.93),
    (-3.215, 0.93), (-3.196, 0.77), (-3.171, 0.53), (-3.151, 0.32), (-3.142, 0.22), (-3.122, 0.40),
    (-3.098, 0.59), (-3.078, 0.53), (-3.053, 0.32), (-3.036, 0.12), (-3.019, 0.03), (-3.007, 0.04),
    (-2.987, 0.16), (-2.968, 0.28), (-2.943, 0.32), (-2.919, 0.32), (-2.901, 0.30), (-2.884, 0.12),
    (-2.865, 0.00), (-2.791, 0.00), (-2.766, 0.01), (-2.747, 0.32), (-2.730, 0.73), (-2.712, 0.82),
    (-2.688, 0.83), (-2.663, 0.79), (-2.639, 0.77), (-2.614, 0.73), (-2.590, 0.69), (-2.570, 0.71),
    (-2.545, 0.65), (-2.521, 0.60), (-2.501, 0.65), (-2.477, 0.85), (-2.452, 0.87), (-2.428, 0.91),
    (-2.403, 0.93), (-2.386, 0.89), (-2.369, 0.97), (-2.344, 1.00), (-2.320, 1.01), (-2.288, 0.99),
    (-2.251, 0.98), (-2.214, 0.97), (-2.189, 0.93), (-2.158, 0.84), (-2.128, 0.89), (-2.091, 0.93),
    (-2.054, 0.95), (-2.018, 0.98), (-1.981, 1.00), (-1.944, 0.96), (-1.919, 0.95), (-1.895, 0.97),
    (-1.878, 0.93), (-1.863, 0.80), (-1.846, 0.97), (-1.821, 0.99), (-1.797, 0.93), (-1.772, 0.91),
    (-1.748, 0.85), (-1.730, 0.95), (-1.711, 0.87), (-1.699, 0.73), (-1.686, 0.57), (-1.674, 0.49),
    (-1.662, 0.45), (-1.642, 0.61), (-1.625, 0.55), (-1.600, 0.77), (-1.583, 0.79), (-1.563, 0.73),
    (-1.544, 0.65), (-1.527, 0.69), (-1.509, 0.87), (-1.490, 0.99), (-1.465, 1.00), (-1.453, 0.95),
    (-1.436, 0.73), (-1.416, 0.40), (-1.397, 0.24), (-1.379, 0.43), (-1.362, 0.73), (-1.343, 0.73),
    (-1.318, 0.71), (-1.293, 0.76), (-1.269, 0.77), (-1.244, 0.75), (-1.220, 0.73), (-1.195, 0.69),
    (-1.171, 0.67), (-1.146, 0.65), (-1.122, 0.69), (-1.102, 0.73), (-1.085, 0.61), (-1.068, 0.32),
    (-1.048, 0.08), (-1.024, 0.00), (-0.987, 0.00), (-0.962, 0.12), (-0.937, 0.53), (-0.913, 0.93),
    (-0.889, 0.92), (-0.864, 0.90), (-0.839, 0.88), (-0.815, 0.87), (-0.790, 0.83), (-0.773, 0.73),
    (-0.761, 0.66), (-0.741, 0.77), (-0.717, 0.81), (-0.692, 0.81), (-0.667, 0.77), (-0.655, 0.75),
    (-0.636, 0.79), (-0.618, 0.85), (-0.594, 0.85), (-0.569, 0.86), (-0.545, 0.86), (-0.520, 0.87),
    (-0.496, 0.89), (-0.471, 0.91), (-0.446, 0.93), (-0.422, 0.97), (-0.397, 0.99), (-0.373, 1.00),
    (-0.348, 1.01), (-0.323, 0.98), (-0.299, 0.97), (-0.274, 0.98), (-0.250, 0.99), (-0.225, 0.94),
    (-0.201, 0.98), (-0.176, 1.01), (-0.152, 0.96), (-0.135, 0.93), (-0.115, 0.87), (-0.095, 0.99),
    (-0.071, 1.00), (-0.041, 1.01), (-0.005, 1.00), (0.020, 0.99), (0.045, 0.93), (0.062, 0.69),
    (0.072, 0.62), (0.086, 0.77), (0.106, 0.99), (0.131, 1.00), (0.155, 0.98), (0.192, 0.98),
    (0.229, 0.99), (0.253, 0.95), (0.273, 0.73), (0.290, 0.40), (0.307, 0.16), (0.327, 0.02),
    (0.347, 0.12), (0.364, 0.53), (0.381, 0.93), (0.401, 0.99), (0.438, 0.99), (0.475, 0.98),
    (0.499, 0.93), (0.514, 0.61), (0.524, 0.12), (0.531, 0.63), (0.538, 0.24), (0.548, 0.12),
    (0.560, 0.04), (0.580, 0.01), (0.597, 0.14), (0.614, 0.57), (0.629, 0.81), (0.646, 0.87),
    (0.666, 0.89), (0.683, 0.86), (0.712, 0.86),
]

# ---------------------------------------------------------------------------
# Fitted absorption models: (velocity, model flux)
# ---------------------------------------------------------------------------
LYE_MODEL = [
    (-6.78, 1.0), (-6.46, 1.0), (-6.436, 1.0), (-6.399, 0.99), (-6.375, 0.96), (-6.343, 0.93),
    (-6.313, 0.96), (-6.289, 0.99), (-6.264, 1.0), (-6.24, 1.0), (-6.16, 1.0), (-6.137, 1.0),
    (-6.112, 0.97), (-6.093, 0.88), (-6.068, 0.70), (-6.044, 0.53), (-6.019, 0.72), (-6.000, 0.88),
    (-5.975, 0.98), (-5.950, 1.0), (-5.925, 1.0), (-4.85, 1.0), (-4.828, 1.0), (-4.791, 0.99),
    (-4.757, 0.98), (-4.723, 0.99), (-4.693, 1.0), (-4.67, 1.0), (-3.98, 1.0), (-3.957, 1.0),
    (-3.858, 0.99), (-3.785, 0.98), (-3.736, 0.98), (-3.662, 0.99), (-3.564, 1.0), (-3.54, 1.0),
    (-3.21, 1.0), (-3.191, 1.0), (-3.166, 0.98), (-3.147, 0.75), (-3.122, 0.63), (-3.105, 0.62),
    (-3.085, 0.65), (-3.068, 0.80), (-3.048, 0.98), (-3.024, 1.0), (-3.0, 1.0), (-2.91, 1.0),
    (-2.889, 1.0), (-2.870, 0.96), (-2.852, 0.60), (-2.828, 0.15), (-2.816, 0.12), (-2.796, 0.30),
    (-2.779, 0.75), (-2.761, 0.97), (-2.737, 1.0), (-2.71, 1.0), (-2.551, 0.99), (-2.374, 1.0),
    (-2.35, 1.0), (-1.17, 1.0), (-1.146, 1.0), (-1.097, 0.99), (-1.061, 0.94), (-1.009, 0.88),
    (-0.962, 0.95), (-0.925, 0.99), (-0.889, 1.0), (-0.865, 1.0), (0.712, 1.0),
]

LYD_MODEL = [
    (-6.78, 1.0), (-6.46, 1.0), (-6.436, 1.0), (-6.399, 0.97), (-6.375, 0.92), (-6.343, 0.88),
    (-6.313, 0.92), (-6.289, 0.98), (-6.260, 1.0), (-6.235, 1.0), (-6.16, 1.0), (-6.137, 1.0),
    (-6.117, 0.97), (-6.098, 0.80), (-6.073, 0.55), (-6.044, 0.32), (-6.019, 0.50), (-5.994, 0.80),
    (-5.970, 0.97), (-5.945, 1.0), (-5.92, 1.0), (-4.85, 1.0), (-4.828, 1.0), (-4.791, 0.98),
    (-4.757, 0.96), (-4.723, 0.98), (-4.688, 1.0), (-4.665, 1.0), (-3.98, 1.0), (-3.957, 1.0),
    (-3.858, 0.99), (-3.785, 0.97), (-3.723, 0.96), (-3.650, 0.98), (-3.564, 1.0), (-3.54, 1.0),
    (-3.21, 1.0), (-3.191, 1.0), (-3.166, 0.97), (-3.147, 0.75), (-3.122, 0.61), (-3.105, 0.60),
    (-3.085, 0.62), (-3.068, 0.78), (-3.048, 0.97), (-3.024, 1.0), (-3.0, 1.0), (-2.915, 1.0),
    (-2.894, 1.0), (-2.874, 0.96), (-2.855, 0.55), (-2.835, 0.10), (-2.816, 0.02), (-2.796, 0.10),
    (-2.776, 0.60), (-2.757, 0.97), (-2.737, 1.0), (-2.71, 1.0), (-2.551, 0.99), (-2.374, 1.0),
    (-2.35, 1.0), (-1.343, 1.0), (-1.122, 0.99), (-1.085, 0.95), (-1.048, 0.86), (-1.009, 0.81),
    (-0.974, 0.88), (-0.945, 0.97), (-0.913, 1.0), (-0.89, 1.0), (-0.758, 0.99), (-0.704, 1.0),
    (0.712, 1.0),
]

LYG_MODEL = [
    (-6.78, 1.0), (-6.46, 1.0), (-6.436, 1.0), (-6.407, 0.97), (-6.382, 0.88), (-6.358, 0.79),
    (-6.343, 0.76), (-6.323, 0.80), (-6.299, 0.91), (-6.274, 0.99), (-6.252, 1.0), (-6.23, 1.0),
    (-6.16, 1.0), (-6.137, 1.0), (-6.117, 0.97), (-6.098, 0.75), (-6.073, 0.35), (-6.049, 0.09),
    (-6.039, 0.08), (-6.019, 0.25), (-5.994, 0.70), (-5.970, 0.96), (-5.940, 1.0), (-5.915, 1.0),
    (-4.865, 1.0), (-4.841, 1.0), (-4.804, 0.98), (-4.757, 0.93), (-4.718, 0.97), (-4.681, 1.0),
    (-4.655, 1.0), (-4.005, 1.0), (-3.981, 1.0), (-3.908, 0.99), (-3.834, 0.96), (-3.748, 0.93),
    (-3.662, 0.97), (-3.564, 1.0), (-3.54, 1.0), (-3.21, 1.0), (-3.191, 1.0), (-3.171, 0.97),
    (-3.151, 0.75), (-3.127, 0.61), (-3.105, 0.60), (-3.085, 0.60), (-3.068, 0.75), (-3.048, 0.97),
    (-3.024, 1.0), (-3.0, 1.0), (-2.915, 1.0), (-2.894, 1.0), (-2.877, 0.97), (-2.860, 0.50),
    (-2.845, 0.08), (-2.828, 0.01), (-2.803, 0.01), (-2.786, 0.30), (-2.766, 0.85), (-2.747, 0.99),
    (-2.730, 1.0), (-2.644, 0.99), (-2.533, 0.98), (-2.422, 0.99), (-2.325, 1.0), (-1.465, 1.0),
    (-1.343, 0.99), (-1.122, 0.99), (-1.097, 0.97), (-1.068, 0.88), (-1.038, 0.74), (-1.009, 0.64),
    (-0.984, 0.76), (-0.955, 0.93), (-0.925, 0.99), (-0.889, 1.0), (-0.802, 0.99), (-0.758, 0.98),
    (-0.717, 0.99), (-0.606, 0.99), (-0.361, 1.0), (0.712, 1.0),
]

LYB_MODEL = [
    (-6.78, 1.0), (-6.47, 1.0), (-6.449, 1.0), (-6.424, 0.97), (-6.399, 0.85), (-6.375, 0.62),
    (-6.358, 0.50), (-6.343, 0.45), (-6.328, 0.50), (-6.309, 0.70), (-6.289, 0.90), (-6.264, 0.99),
    (-6.240, 1.0), (-6.215, 1.0), (-6.175, 1.0), (-6.154, 1.0), (-6.129, 0.97), (-6.112, 0.80),
    (-6.093, 0.35), (-6.075, 0.05), (-6.061, 0.0), (-6.042, 0.0), (-6.024, 0.0), (-6.007, 0.05),
    (-5.990, 0.35), (-5.970, 0.85), (-5.950, 0.98), (-5.926, 1.0), (-5.90, 1.0), (-4.875, 1.0),
    (-4.853, 1.0), (-4.816, 0.96), (-4.787, 0.87), (-4.757, 0.78), (-4.730, 0.87), (-4.698, 0.97),
    (-4.669, 1.0), (-4.645, 1.0), (-4.005, 1.0), (-3.981, 1.0), (-3.908, 0.98), (-3.834, 0.92),
    (-3.772, 0.86), (-3.723, 0.83), (-3.682, 0.86), (-3.625, 0.94), (-3.564, 0.99), (-3.515, 1.0),
    (-3.49, 1.0), (-3.21, 1.0), (-3.191, 1.0), (-3.171, 0.97), (-3.151, 0.75), (-3.132, 0.60),
    (-3.102, 0.60), (-3.073, 0.60), (-3.063, 0.70), (-3.048, 0.95), (-3.024, 1.0), (-3.0, 1.0),
    (-2.915, 1.0), (-2.894, 1.0), (-2.879, 0.95), (-2.865, 0.50), (-2.850, 0.0), (-2.815, 0.0),
    (-2.779, 0.0), (-2.766, 0.40), (-2.752, 0.90), (-2.730, 1.0), (-2.668, 0.98), (-2.607, 0.95),
    (-2.550, 0.94), (-2.472, 0.97), (-2.374, 1.0), (-2.35, 1.0), (-1.49, 1.0), (-1.465, 1.0),
    (-1.404, 0.98), (-1.323, 0.95), (-1.244, 0.96), (-1.156, 0.94), (-1.109, 0.94), (-1.085, 0.85),
    (-1.060, 0.60), (-1.036, 0.40), (-1.009, 0.26), (-0.987, 0.40), (-0.962, 0.75), (-0.937, 0.95),
    (-0.901, 1.0), (-0.852, 0.99), (-0.815, 0.97), (-0.758, 0.94), (-0.717, 0.98), (-0.667, 0.99),
    (-0.574, 0.98), (-0.361, 1.0), (0.712, 1.0),
]

LYA_MODEL = [
    (-6.78, 1.0), (-6.485, 1.0), (-6.461, 1.0), (-6.441, 0.97), (-6.424, 0.85), (-6.407, 0.50),
    (-6.387, 0.10), (-6.368, 0.0), (-6.340, 0.0), (-6.313, 0.0), (-6.296, 0.10), (-6.279, 0.50),
    (-6.260, 0.90), (-6.240, 0.99), (-6.220, 1.0), (-6.195, 1.0), (-6.185, 1.0), (-6.166, 1.0),
    (-6.147, 0.97), (-6.129, 0.70), (-6.112, 0.20), (-6.098, 0.0), (-6.044, 0.0), (-5.990, 0.0),
    (-5.975, 0.20), (-5.958, 0.70), (-5.940, 0.97), (-5.921, 1.0), (-5.895, 1.0), (-4.89, 1.0),
    (-4.865, 1.0), (-4.836, 0.97), (-4.811, 0.80), (-4.787, 0.50), (-4.757, 0.20), (-4.728, 0.50),
    (-4.703, 0.80), (-4.681, 0.97), (-4.649, 1.0), (-4.62, 1.0), (-4.03, 1.0), (-4.006, 1.0),
    (-3.957, 0.98), (-3.908, 0.90), (-3.858, 0.77), (-3.822, 0.71), (-3.736, 0.70), (-3.674, 0.71),
    (-3.637, 0.77), (-3.589, 0.90), (-3.540, 0.98), (-3.478, 1.0), (-3.45, 1.0), (-3.21, 1.0),
    (-3.191, 1.0), (-3.176, 0.97), (-3.161, 0.75), (-3.147, 0.60), (-3.105, 0.60), (-3.061, 0.60),
    (-3.056, 0.70), (-3.046, 0.97), (-3.032, 1.0), (-3.01, 1.0), (-2.93, 1.0), (-2.909, 1.0),
    (-2.894, 0.95), (-2.879, 0.40), (-2.865, 0.0), (-2.815, 0.0), (-2.766, 0.0), (-2.752, 0.40),
    (-2.737, 0.90), (-2.722, 0.95), (-2.693, 0.91), (-2.619, 0.80), (-2.550, 0.65), (-2.472, 0.81),
    (-2.398, 0.95), (-2.325, 1.0), (-2.30, 1.0), (-1.49, 1.0), (-1.465, 1.0), (-1.392, 0.93),
    (-1.323, 0.71), (-1.257, 0.78), (-1.156, 0.63), (-1.109, 0.64), (-1.085, 0.50), (-1.060, 0.20),
    (-1.048, 0.0), (-1.010, 0.0), (-0.974, 0.0), (-0.955, 0.30), (-0.930, 0.75), (-0.901, 0.98),
    (-0.881, 1.0), (-0.852, 0.96), (-0.802, 0.81), (-0.761, 0.66), (-0.729, 0.81), (-0.692, 0.89),
    (-0.667, 0.90), (-0.631, 0.87), (-0.582, 0.86), (-0.508, 0.89), (-0.434, 0.95), (-0.361, 0.99),
    (-0.287, 1.0), (-0.26, 1.0), (0.712, 1.0),
]

# ---------------------------------------------------------------------------
# Figure geometry (pixels)
# ---------------------------------------------------------------------------
FIG_W, FIG_H = 1128, 1555
AX_LEFT, AX_RIGHT = 111.7, 1127.3
AX_TOP0, AX_H, AX_STEP = 15.7, 247.6, 298.0
FONT = "DejaVu Sans"

panels = [
    (LINE_LABELS[0], LYE_SPEC, LYE_MODEL),
    (LINE_LABELS[1], LYD_SPEC, LYD_MODEL),
    (LINE_LABELS[2], LYG_SPEC, LYG_MODEL),
    (LINE_LABELS[3], LYB_SPEC, LYB_MODEL),
    (LINE_LABELS[4], LYA_SPEC, LYA_MODEL),
]

fig = go.Figure()
layout = {}
shapes = []
annotations = []

for i, (label, spec, model) in enumerate(panels):
    sfx = "" if i == 0 else str(i + 1)
    sv, sf = zip(*spec)
    mv, mf = zip(*model)

    fig.add_trace(go.Scatter(
        x=sv, y=sf, mode="lines", line=dict(color="black", width=1.6),
        xaxis="x" + sfx, yaxis="y" + sfx, hoverinfo="skip", showlegend=False))
    fig.add_trace(go.Scatter(
        x=mv, y=mf, mode="lines",
        line=dict(color="red", width=1.2, shape="spline", smoothing=0.6),
        xaxis="x" + sfx, yaxis="y" + sfx, hoverinfo="skip", showlegend=False))

    top = AX_TOP0 + i * AX_STEP
    bot = top + AX_H
    common = dict(
        showline=True, linecolor="black", linewidth=1.6, mirror=True,
        ticks="outside", ticklen=7, tickwidth=1.6, tickcolor="black",
        showgrid=False, zeroline=False, fixedrange=True, automargin=False,
        tickfont=dict(family=FONT, size=26, color="black"),
    )
    layout["xaxis" + sfx] = dict(
        domain=[AX_LEFT / FIG_W, AX_RIGHT / FIG_W], range=V_RANGE,
        anchor="y" + sfx, tickmode="array", tickvals=VEL_TICKS,
        ticktext=VEL_TICK_TEXT, ticklabelstandoff=3, **common)
    layout["yaxis" + sfx] = dict(
        domain=[1 - bot / FIG_H, 1 - top / FIG_H], range=FLUX_RANGE,
        anchor="x" + sfx, tickmode="array", tickvals=FLUX_TICKS,
        tickformat=".1f", ticklabelstandoff=7, **common)

    for cid, cv in zip(COMPONENT_IDS, COMPONENT_VEL):
        shapes.append(dict(
            type="line", xref="x" + sfx, yref="y" + sfx + " domain",
            x0=cv, x1=cv, y0=0, y1=1, layer="above",
            line=dict(color="blue", width=2, dash="2px,2.2px")))
        annotations.append(dict(
            x=cv, y=1.38, xref="x" + sfx, yref="y" + sfx, text=cid,
            showarrow=False, xanchor="left", yanchor="middle", xshift=-5,
            font=dict(family=FONT, size=17, color="blue"),
            bordercolor="rgba(0,0,255,0.5)", borderwidth=1.3, borderpad=2))

    annotations.append(dict(
        x=-6.63, y=1.19, xref="x" + sfx, yref="y" + sfx, text=label,
        showarrow=False, xanchor="left", yanchor="middle",
        font=dict(family=FONT, size=28, color="black")))

annotations.append(dict(
    x=577.5 / FIG_W, y=1 - 1535 / FIG_H, xref="paper", yref="paper",
    text="Velocity (1000km/s)", showarrow=False, xanchor="center", yanchor="middle",
    font=dict(family=FONT, size=28.5, color="black")))
annotations.append(dict(
    x=24 / FIG_W, y=1 - 767 / FIG_H, xref="paper", yref="paper",
    text="Normalized Flux", textangle=-90, showarrow=False,
    xanchor="center", yanchor="middle",
    font=dict(family=FONT, size=28.5, color="black")))

fig.update_layout(
    width=FIG_W, height=FIG_H,
    margin=dict(l=0, r=0, t=0, b=0),
    paper_bgcolor="white", plot_bgcolor="white",
    font=dict(family=FONT, color="black"),
    showlegend=False,
    shapes=shapes, annotations=annotations,
    **layout,
)

fig.write_html("out.html")
